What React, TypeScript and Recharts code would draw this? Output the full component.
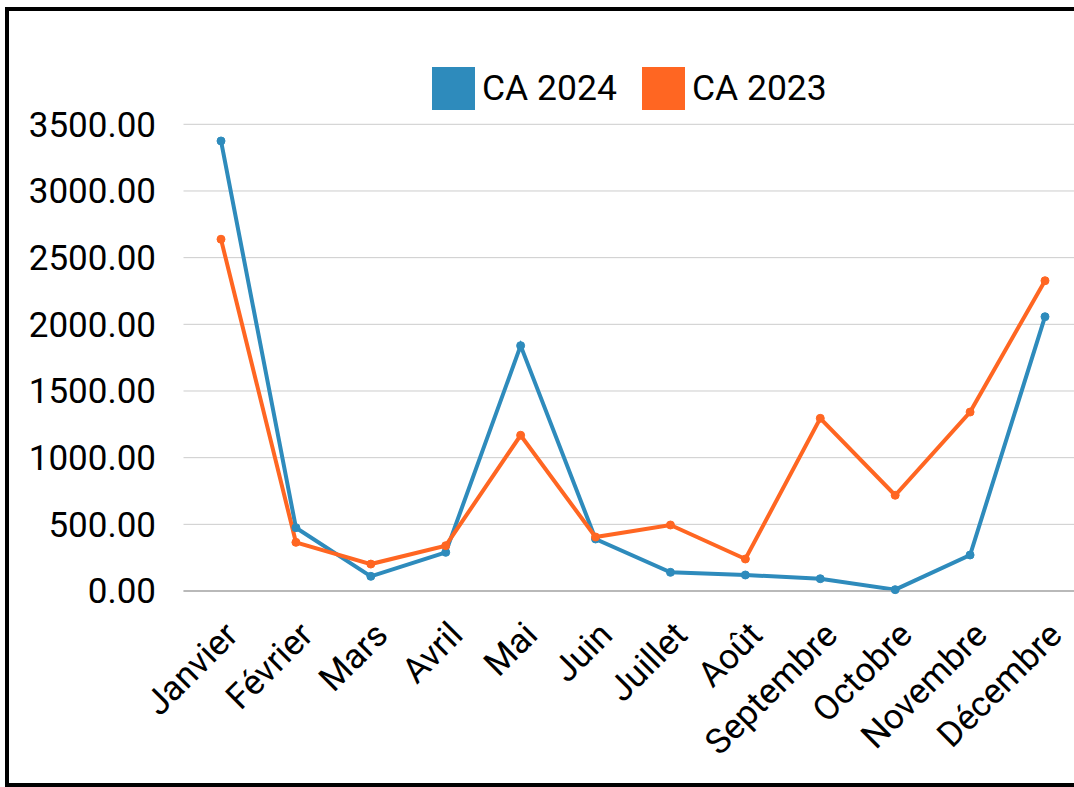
import React from 'react';
import { LineChart, Line, XAxis, YAxis, CartesianGrid } from 'recharts';

const months = ['Janvier', 'Février', 'Mars', 'Avril', 'Mai', 'Juin', 'Juillet', 'Août', 'Septembre', 'Octobre', 'Novembre', 'Décembre'];
const ca2024 = [3375, 475, 110, 290, 1840, 390, 140, 120, 92, 10, 270, 2057];
const ca2023 = [2638, 365, 202, 340, 1168, 405, 495, 240, 1295, 718, 1342, 2327];
const yTicks = [0, 500, 1000, 1500, 2000, 2500, 3000, 3500];

const BLUE = '#2E8BBC';
const ORANGE = '#FF6622';
const FONT = 'Roboto, "Noto Sans", sans-serif';

const data = months.map((m, i) => ({ month: m, ca2024: ca2024[i], ca2023: ca2023[i] }));

const MonthTick = (props: any) => {
  const { x, y, payload } = props;
  return (
    <g transform={`translate(${x + 19},${y + 46})`}>
      <text x={0} y={0} textAnchor="end" transform="rotate(-45)" fill="#000" fontSize={35} fontFamily={FONT}>
        {payload.value}
      </text>
    </g>
  );
};

const legendItems = [
  { label: 'CA 2024', color: BLUE },
  { label: 'CA 2023', color: ORANGE },
];

const App: React.FC = () => {
  return (
    <div style={{ position: 'fixed', left: 0, top: 0, width: 1074, height: 787, overflow: 'hidden', background: '#fff' }}>
      <div
        style={{
          position: 'absolute',
          left: 5,
          top: 7,
          width: 1110,
          height: 780,
          border: '4px solid #000',
          boxSizing: 'border-box',
        }}
      />
      <div style={{ position: 'absolute', left: 432, top: 67, display: 'flex', alignItems: 'center', fontFamily: FONT, fontSize: 35.5 }}>
        {legendItems.map((it, i) => (
          <div key={it.label} style={{ display: 'flex', alignItems: 'center', marginLeft: i === 0 ? 0 : 25 }}>
            <div style={{ width: 43, height: 43, background: it.color, marginRight: 7 }} />
            <span style={{ lineHeight: '43px', color: '#000' }}>{it.label}</span>
          </div>
        ))}
      </div>
      <div style={{ position: 'absolute', left: 0, top: 0 }}>
        <LineChart width={1100} height={787} data={data} margin={{ top: 124.3, right: 17.5, left: 0, bottom: 0 }}>
          <CartesianGrid vertical={false} stroke="#CCCCCC" strokeWidth={1} />
          <XAxis
            dataKey="month"
            height={196}
            interval={0}
            padding={{ left: 37.5, right: 37.5 }}
            tick={<MonthTick />}
            tickSize={0}
            tickMargin={0}
            tickLine={false}
            axisLine={{ stroke: '#AAAAAA', strokeWidth: 1.5 }}
          />
          <YAxis
            width={183.5}
            domain={[0, 3500]}
            ticks={yTicks}
            tickFormatter={(v: number) => v.toFixed(2)}
            tickSize={0}
            tickMargin={27.5}
            axisLine={false}
            tickLine={false}
            tick={{ fill: '#000', fontSize: 35, fontFamily: FONT }}
          />
          <Line
            dataKey="ca2024"
            stroke={BLUE}
            strokeWidth={4}
            dot={{ r: 4, fill: BLUE, stroke: BLUE, strokeWidth: 1 }}
            isAnimationActive={false}
          />
          <Line
            dataKey="ca2023"
            stroke={ORANGE}
            strokeWidth={4}
            dot={{ r: 4, fill: ORANGE, stroke: ORANGE, strokeWidth: 1 }}
            isAnimationActive={false}
          />
        </LineChart>
      </div>
    </div>
  );
};

export default App;
